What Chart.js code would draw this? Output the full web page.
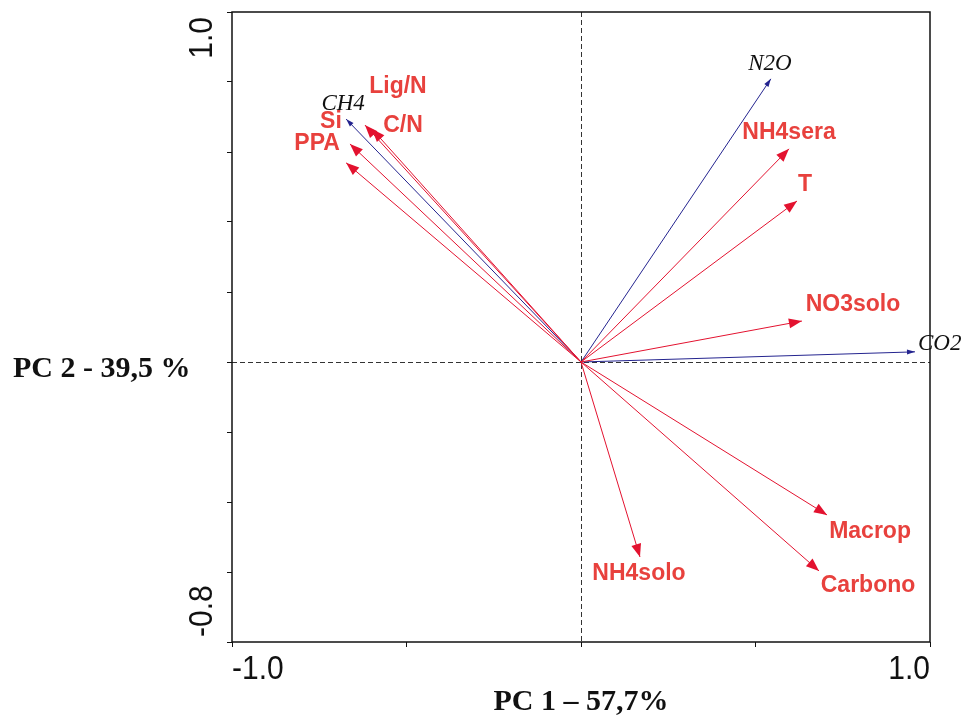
<!DOCTYPE html>
<html>
<head>
<meta charset="utf-8">
<script src="https://cdn.jsdelivr.net/npm/chart.js@4.4.1/dist/chart.umd.min.js"></script>
<style>
body { margin: 0; background: #fff; }
#wrap { width: 963px; height: 715px; }
</style>
</head>
<body>
<div id="wrap"><canvas id="grafico" width="963" height="715"></canvas></div>
<script>
// variaveis ambientais (vetores vermelhos)
const ambientais = ['NH4sera', 'T', 'NO3solo', 'Macrop', 'Carbono', 'NH4solo', 'Lig/N', 'C/N', 'Si', 'PPA'];
const pc1Amb = [0.596, 0.619, 0.633, 0.705, 0.682, 0.169, -0.619, -0.599, -0.662, -0.673];
const pc2Amb = [0.609, 0.460, 0.117, -0.437, -0.597, -0.557, 0.677, 0.666, 0.623, 0.569];

// gases (vetores azuis)
const gases = ['N2O', 'CO2', 'CH4'];
const pc1Gas = [0.544, 0.957, -0.673];
const pc2Gas = [0.809, 0.029, 0.694];

// eixos
const xTicks = [-1.0, 1.0];
const yTicks = [1.0, -0.8];
const tituloX = 'PC 1 \u2013 57,7%';
const tituloY = 'PC 2 - 39,5 %';

const vermelho = '#e3122f';
const vermelhoTexto = '#e8413d';
const azul = '#24248f';

// deslocamento do rotulo em px a partir da ponta da seta
const posRotulo = {
    'NH4sera': [0, -16, 'center'],
    'T': [8, -16, 'center'],
    'NO3solo': [51, -16, 'center'],
    'Macrop': [43, 17, 'center'],
    'Carbono': [49, 15, 'center'],
    'NH4solo': [-1, 17, 'center'],
    'Lig/N': [33, -38, 'center'],
    'C/N': [31, -3, 'center'],
    'Si': [-19, -22, 'center'],
    'PPA': [-29, -19, 'center'],
    'N2O': [-1, -15, 'center'],
    'CO2': [3, -8, 'left'],
    'CH4': [-3, -15, 'center'],
};

function vetor(nome, x, y, cor) {
    return {
        label: nome,
        data: [{ x: 0, y: 0 }, { x, y }],
        showLine: true,
        borderColor: cor,
        backgroundColor: cor,
        borderWidth: 1,
        pointRadius: 0,
        pointHoverRadius: 0,
        tipo: cor === azul ? 'gas' : 'amb',
    };
}

const datasets = [];
ambientais.forEach((n, i) => datasets.push(vetor(n, pc1Amb[i], pc2Amb[i], vermelho)));
gases.forEach((n, i) => datasets.push(vetor(n, pc1Gas[i], pc2Gas[i], azul)));

const biplotPlugin = {
    id: 'biplot',
    beforeDatasetsDraw(chart) {
        const { ctx, chartArea: a, scales: { x, y } } = chart;
        ctx.save();
        ctx.strokeStyle = '#333';
        ctx.lineWidth = 1;
        ctx.setLineDash([5, 3]);
        const x0 = Math.round(x.getPixelForValue(0)) + 0.5;
        const y0 = Math.round(y.getPixelForValue(0)) + 0.5;
        ctx.beginPath();
        ctx.moveTo(x0, a.top); ctx.lineTo(x0, a.bottom);
        ctx.moveTo(a.left, y0); ctx.lineTo(a.right, y0);
        ctx.stroke();
        ctx.restore();
    },
    afterDatasetsDraw(chart) {
        const { ctx, chartArea: a, scales: { x, y } } = chart;
        ctx.save();

        // pontas das setas
        chart.data.datasets.forEach((ds, i) => {
            const pts = chart.getDatasetMeta(i).data;
            const p0 = pts[0], p1 = pts[1];
            const ang = Math.atan2(p1.y - p0.y, p1.x - p0.x);
            const comp = ds.tipo === 'gas' ? 8 : 13;
            const larg = ds.tipo === 'gas' ? 2.5 : 5;
            ctx.fillStyle = ds.borderColor;
            ctx.beginPath();
            ctx.moveTo(p1.x, p1.y);
            ctx.lineTo(p1.x - comp * Math.cos(ang) + larg * Math.sin(ang), p1.y - comp * Math.sin(ang) - larg * Math.cos(ang));
            ctx.lineTo(p1.x - comp * Math.cos(ang) - larg * Math.sin(ang), p1.y - comp * Math.sin(ang) + larg * Math.cos(ang));
            ctx.closePath();
            ctx.fill();

            const [dx, dy, alin] = posRotulo[ds.label];
            ctx.textAlign = alin;
            ctx.textBaseline = 'middle';
            if (ds.tipo === 'gas') {
                ctx.font = 'italic 23px "Liberation Serif", "Times New Roman", serif';
                ctx.fillStyle = '#111';
            } else {
                ctx.font = 'bold 23px "Liberation Sans", Arial, sans-serif';
                ctx.fillStyle = vermelhoTexto;
            }
            ctx.fillText(ds.label, p1.x + dx, p1.y + dy);
        });

        // moldura
        ctx.strokeStyle = '#111';
        ctx.lineWidth = 1.5;
        ctx.setLineDash([]);
        ctx.strokeRect(a.left, a.top, a.right - a.left, a.bottom - a.top);

        // rotulos dos eixos (fonte um pouco alongada na vertical)
        ctx.fillStyle = '#111';
        ctx.font = '30px "Liberation Sans", Arial, sans-serif';
        ctx.textBaseline = 'middle';
        xTicks.forEach((v, i) => {
            ctx.save();
            ctx.translate(x.getPixelForValue(v), a.bottom + 28);
            ctx.scale(1, 1.08);
            ctx.textAlign = i === 0 ? 'left' : 'right';
            ctx.fillText(v.toFixed(1), 0, 0);
            ctx.restore();
        });
        yTicks.forEach((v, i) => {
            ctx.save();
            ctx.translate(a.left - 29, y.getPixelForValue(v) + (i === 0 ? 5 : -5));
            ctx.rotate(-Math.PI / 2);
            ctx.scale(1, 1.08);
            ctx.textAlign = i === 0 ? 'right' : 'left';
            ctx.fillText(v.toFixed(1), 0, 0);
            ctx.restore();
        });

        ctx.font = 'bold 30px "Liberation Serif", "Times New Roman", serif';
        ctx.textAlign = 'center';
        ctx.fillText(tituloX, x.getPixelForValue(0), a.bottom + 60);
        ctx.textAlign = 'left';
        ctx.fillText(tituloY, 13, y.getPixelForValue(0) + 7);
        ctx.restore();
    },
};

new Chart(document.getElementById('grafico'), {
    type: 'scatter',
    data: { datasets },
    options: {
        responsive: false,
        animation: false,
        layout: { padding: { left: 227, top: 12, right: 33, bottom: 68 } },
        plugins: { legend: { display: false }, tooltip: { enabled: false } },
        scales: {
            x: {
                min: -1, max: 1,
                ticks: { display: false, stepSize: 0.5 },
                grid: { drawOnChartArea: false, drawTicks: true, tickLength: 5, color: '#111' },
                border: { display: false },
                afterFit(s) { s.height = 5; },
            },
            y: {
                min: -0.8, max: 1,
                ticks: { display: false, stepSize: 0.2 },
                grid: { drawOnChartArea: false, drawTicks: true, tickLength: 5, color: '#111' },
                border: { display: false },
                afterFit(s) { s.width = 5; },
            },
        },
    },
    plugins: [biplotPlugin],
});
</script>
</body>
</html>
